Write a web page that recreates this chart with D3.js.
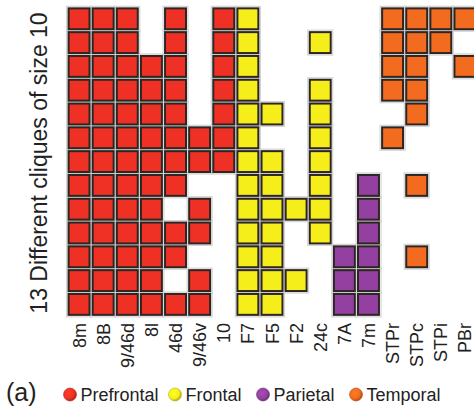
<!DOCTYPE html>
<html>
<head>
<meta charset="utf-8">
<script src="https://cdn.jsdelivr.net/npm/d3@7"></script>
<style>
  html, body { margin: 0; padding: 0; background: #fff; }
  svg { display: block; font-family: "Liberation Sans", Arial, Helvetica, sans-serif; }
</style>
</head>
<body>
<svg id="chart" width="474" height="407"></svg>
<script>
// Brain areas (columns), grouped by lobe
const areas = ["8m", "8B", "9/46d", "8l", "46d", "9/46v", "10",
               "F7", "F5", "F2", "24c", "7A", "7m",
               "STPr", "STPc", "STPi", "PBr"];
const lobeOf = {
  "8m": "Prefrontal", "8B": "Prefrontal", "9/46d": "Prefrontal", "8l": "Prefrontal",
  "46d": "Prefrontal", "9/46v": "Prefrontal", "10": "Prefrontal",
  "F7": "Frontal", "F5": "Frontal", "F2": "Frontal", "24c": "Frontal",
  "7A": "Parietal", "7m": "Parietal",
  "STPr": "Temporal", "STPc": "Temporal", "STPi": "Temporal", "PBr": "Temporal"
};
const lobes = ["Prefrontal", "Frontal", "Parietal", "Temporal"];
const lobeColors = ["#ee3124", "#f6ee1b", "#9440a1", "#f26b1e"];

// Members of each of the 13 cliques of size 10
const cliques = [
  ["8m", "8B", "9/46d", "46d", "10", "F7", "STPr", "STPc", "STPi", "PBr"],
  ["8m", "8B", "9/46d", "46d", "10", "F7", "24c", "STPr", "STPc", "STPi"],
  ["8m", "8B", "9/46d", "8l", "46d", "10", "F7", "STPr", "STPc", "PBr"],
  ["8m", "8B", "9/46d", "8l", "46d", "10", "F7", "24c", "STPr", "STPc"],
  ["8m", "8B", "9/46d", "8l", "46d", "10", "F7", "F5", "24c", "STPc"],
  ["8m", "8B", "9/46d", "8l", "46d", "9/46v", "10", "F7", "24c", "STPr"],
  ["8m", "8B", "9/46d", "8l", "46d", "9/46v", "10", "F7", "F5", "24c"],
  ["8m", "8B", "9/46d", "8l", "46d", "F7", "F5", "24c", "7m", "STPc"],
  ["8m", "8B", "9/46d", "8l", "9/46v", "F7", "F5", "F2", "24c", "7m"],
  ["8m", "8B", "9/46d", "8l", "46d", "9/46v", "F7", "F5", "24c", "7m"],
  ["8m", "8B", "9/46d", "8l", "46d", "F7", "F5", "7A", "7m", "STPc"],
  ["8m", "8B", "9/46d", "8l", "9/46v", "F7", "F5", "F2", "7A", "7m"],
  ["8m", "8B", "9/46d", "8l", "46d", "9/46v", "F7", "F5", "7A", "7m"]
];

const yTitle = "13 Different cliques of size 10";
const panelTag = "(a)";

const svg = d3.select("#chart");

const x = d3.scaleBand().domain(areas).range([67, 477])
  .paddingInner(0.09).paddingOuter(0.045);
const y = d3.scaleBand().domain(d3.range(cliques.length)).range([6.9, 316.3])
  .paddingInner(0.08).paddingOuter(0.04);
const color = d3.scaleOrdinal().domain(lobes).range(lobeColors);

const cells = cliques.flatMap((members, i) => members.map(a => ({ row: i, area: a })));

// soft light halo around each square
svg.append("g").selectAll("rect").data(cells).join("rect")
  .attr("x", d => x(d.area) - 1.5)
  .attr("y", d => y(d.row) - 1.5)
  .attr("width", x.bandwidth() + 3)
  .attr("height", y.bandwidth() + 3)
  .attr("fill", "none")
  .attr("stroke", "#d4d4d4")
  .attr("stroke-width", 1.2);

svg.append("g").selectAll("rect").data(cells).join("rect")
  .attr("x", d => x(d.area) + 0.5)
  .attr("y", d => y(d.row) + 0.5)
  .attr("width", x.bandwidth() - 1)
  .attr("height", y.bandwidth() - 1)
  .attr("fill", d => color(lobeOf[d.area]))
  .attr("stroke", "#2b2523")
  .attr("stroke-width", 2);

// area labels along the bottom, rotated
svg.append("g").selectAll("text").data(areas).join("text")
  .attr("transform", d => `translate(${x(d) + x.bandwidth() / 2 + 6.5},323) rotate(-90)`)
  .attr("text-anchor", "end")
  .attr("font-size", 18)
  .attr("fill", "#222")
  .text(d => d);

// vertical axis title
svg.append("text")
  .attr("transform", "translate(47,163) rotate(-90)")
  .attr("text-anchor", "middle")
  .attr("font-size", 23)
  .attr("fill", "#222")
  .text(yTitle);

// legend
const defs = svg.append("defs");
lobeColors.forEach((c, i) => {
  const g = defs.append("radialGradient").attr("id", "lg" + i)
    .attr("cx", "40%").attr("cy", "40%").attr("r", "60%");
  g.append("stop").attr("offset", "0%").attr("stop-color", d3.color(c).brighter(0.4));
  g.append("stop").attr("offset", "70%").attr("stop-color", c);
  g.append("stop").attr("offset", "100%").attr("stop-color", d3.color(c).darker(1));
});

svg.append("text")
  .attr("x", 6).attr("y", 400.5)
  .attr("font-size", 25)
  .attr("fill", "#222")
  .text(panelTag);

const legendX = [70, 175, 263, 356];
const leg = svg.append("g").selectAll("g").data(lobes).join("g")
  .attr("transform", (d, i) => `translate(${legendX[i]},394.5)`);
leg.append("circle").attr("r", 6.5)
  .attr("fill", (d, i) => `url(#lg${i})`)
  .attr("stroke", (d, i) => d3.color(lobeColors[i]).darker(0.8))
  .attr("stroke-width", 0.6);
leg.append("text")
  .attr("x", 10.5).attr("y", 6)
  .attr("font-size", 18)
  .attr("fill", "#222")
  .text(d => d);
</script>
</body>
</html>
